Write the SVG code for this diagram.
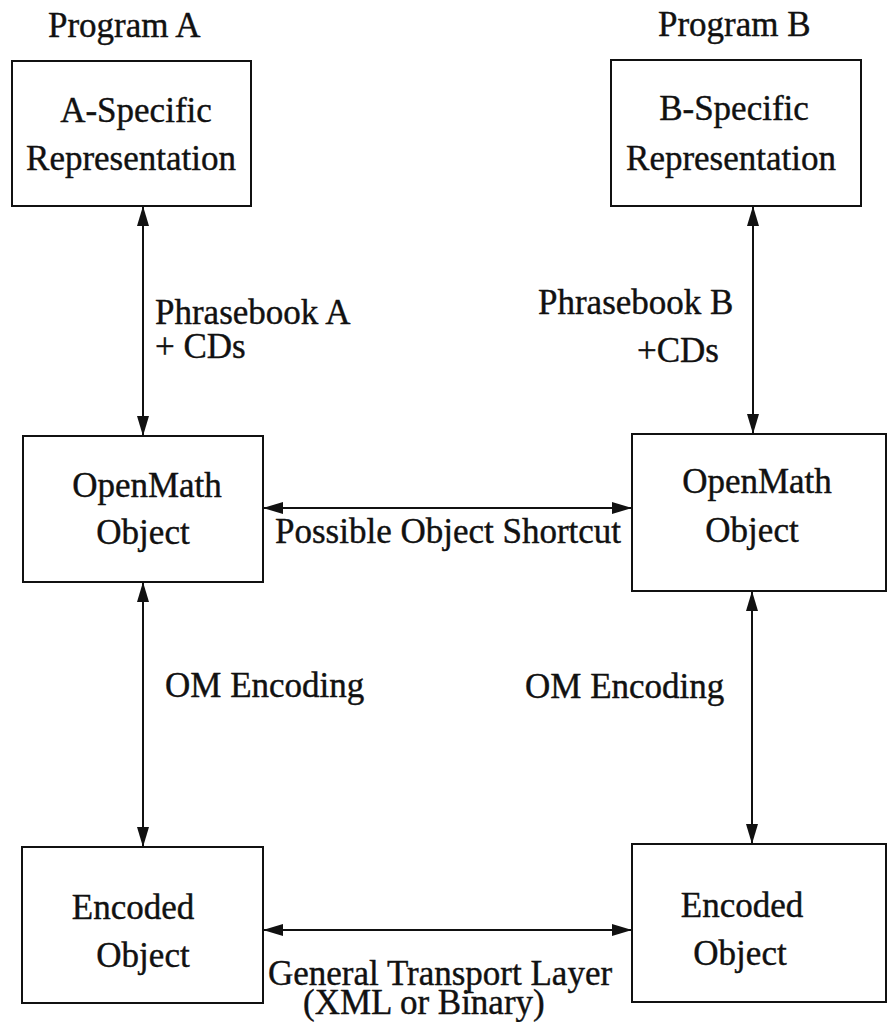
<svg xmlns="http://www.w3.org/2000/svg" width="888" height="1022" viewBox="0 0 888 1022">
  <style>
    .box { fill: #fff; stroke: #111; stroke-width: 2; }
    .lbl { font-family: "Liberation Serif", "Times New Roman", serif; font-size: 35px; fill: #111; stroke: #111; stroke-width: 0.4; }
    .mid { text-anchor: middle; }
    .wire { stroke: #111; stroke-width: 2; fill: none; marker-start: url(#head); marker-end: url(#head); }
  </style>
  <defs>
    <!-- filled triangular head, used at both ends of every connector -->
    <marker id="head" viewBox="0 0 20 12" refX="20" refY="6" markerWidth="20" markerHeight="12" markerUnits="userSpaceOnUse" orient="auto-start-reverse">
      <path d="M0,0 L20,6 L0,12 Z" fill="#111"/>
    </marker>
  </defs>

  <rect width="888" height="1022" fill="#fff"/>

  <text class="lbl" x="48" y="37">Program A</text>
  <text class="lbl" x="658" y="36">Program B</text>

  <g id="a-specific">
    <rect class="box" x="12" y="61" width="239" height="145"/>
    <text class="lbl mid" x="136" y="122">A-Specific</text>
    <text class="lbl mid" x="131" y="170">Representation</text>
  </g>

  <g id="b-specific">
    <rect class="box" x="611" y="60" width="250" height="146"/>
    <text class="lbl mid" x="734" y="120">B-Specific</text>
    <text class="lbl mid" x="731" y="170">Representation</text>
  </g>

  <g id="openmath-a">
    <rect class="box" x="23" y="436" width="240" height="146"/>
    <text class="lbl mid" x="147" y="497">OpenMath</text>
    <text class="lbl mid" x="143" y="544">Object</text>
  </g>

  <g id="openmath-b">
    <rect class="box" x="632" y="434" width="254" height="157"/>
    <text class="lbl mid" x="757" y="493">OpenMath</text>
    <text class="lbl mid" x="752" y="542">Object</text>
  </g>

  <g id="encoded-a">
    <rect class="box" x="22" y="847" width="241" height="156"/>
    <text class="lbl mid" x="133" y="919">Encoded</text>
    <text class="lbl mid" x="143" y="967">Object</text>
  </g>

  <g id="encoded-b">
    <rect class="box" x="632" y="844" width="254" height="158"/>
    <text class="lbl mid" x="742" y="917">Encoded</text>
    <text class="lbl mid" x="740" y="965">Object</text>
  </g>

  <g id="connectors">
    <line class="wire" x1="143" y1="206" x2="143" y2="436"/>
    <line class="wire" x1="753" y1="206" x2="753" y2="434"/>
    <line class="wire" x1="263" y1="508" x2="632" y2="508"/>
    <line class="wire" x1="143" y1="582" x2="143" y2="847"/>
    <line class="wire" x1="752" y1="591" x2="752" y2="844"/>
    <line class="wire" x1="263" y1="930" x2="632" y2="930"/>
  </g>

  <g id="connector-labels">
    <text class="lbl" x="155" y="324">Phrasebook A</text>
    <text class="lbl" x="155" y="358">+ CDs</text>
    <text class="lbl" x="538" y="314">Phrasebook B</text>
    <text class="lbl" x="637" y="362">+CDs</text>
    <text class="lbl" x="275" y="543">Possible Object Shortcut</text>
    <text class="lbl" x="165" y="697">OM Encoding</text>
    <text class="lbl" x="525" y="698">OM Encoding</text>
    <text class="lbl" x="268" y="985">General Transport Layer</text>
    <text class="lbl" x="303" y="1014">(XML or Binary)</text>
  </g>
</svg>
